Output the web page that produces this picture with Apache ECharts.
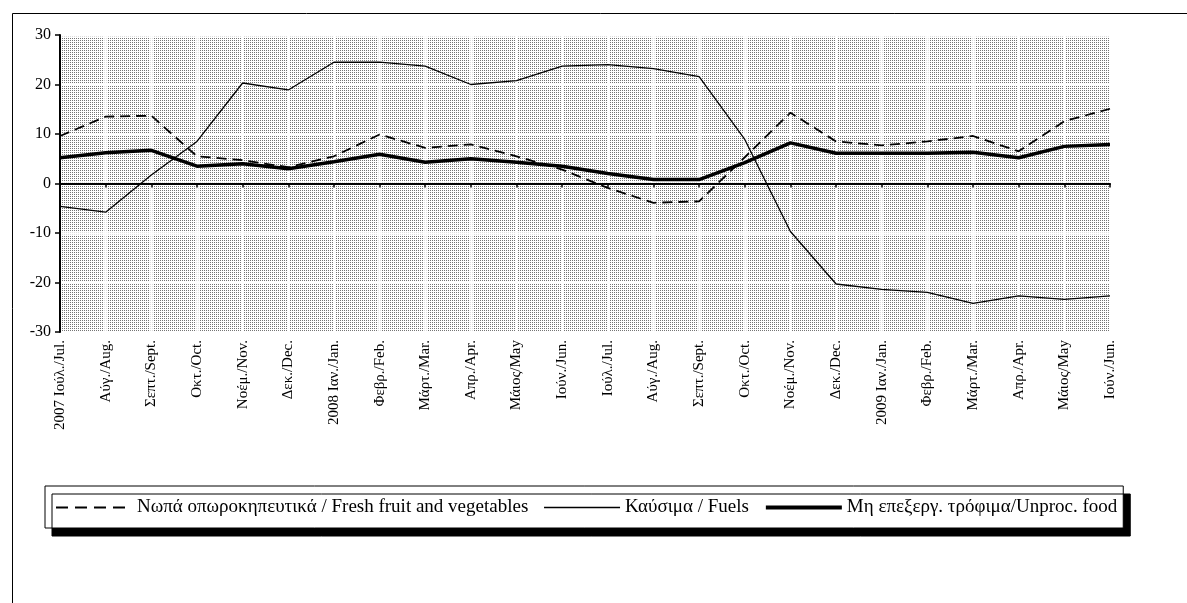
<!DOCTYPE html>
<html>
<head>
<meta charset="utf-8">
<script src="https://cdn.jsdelivr.net/npm/echarts@6/dist/echarts.min.js"></script>
<style>
  html, body { margin: 0; padding: 0; background: #fff; }
  #chart { width: 1187px; height: 603px; }
</style>
</head>
<body>
<div id="chart"></div>
<script>
// μήνες / months
const months = [
  "2007 Ιούλ./Jul.", "Αύγ./Aug.", "Σεπτ./Sept.", "Οκτ./Oct.", "Νοέμ./Nov.", "Δεκ./Dec.",
  "2008 Ιαν./Jan.", "Φεβρ./Feb.", "Μάρτ./Mar.", "Απρ./Apr.", "Μάιος/May", "Ιούν./Jun.",
  "Ιούλ./Jul.", "Αύγ./Aug.", "Σεπτ./Sept.", "Οκτ./Oct.", "Νοέμ./Nov.", "Δεκ./Dec.",
  "2009 Ιαν./Jan.", "Φεβρ./Feb.", "Μάρτ./Mar.", "Απρ./Apr.", "Μάιος/May", "Ιούν./Jun."
];
const freshFruit = [9.6, 13.5, 13.7, 5.5, 4.7, 3.3, 5.5, 9.9, 7.2, 7.9, 5.5, 2.8,
  -0.9, -3.9, -3.6, 5.3, 14.3, 8.5, 7.7, 8.5, 9.6, 6.5, 12.6, 15.1];
const fuels = [-4.6, -5.8, 1.7, 8.5, 20.3, 18.9, 24.5, 24.5, 23.7, 20.0, 20.8, 23.7,
  24.0, 23.2, 21.6, 8.9, -9.7, -20.3, -21.4, -22.0, -24.2, -22.7, -23.4, -22.7];
const unprocFood = [5.2, 6.2, 6.7, 3.5, 4.0, 3.0, 4.4, 5.9, 4.3, 5.0, 4.3, 3.5,
  2.0, 0.8, 0.8, 4.2, 8.2, 6.1, 6.1, 6.1, 6.3, 5.2, 7.5, 7.9];
const seriesNames = [
  "Νωπά οπωροκηπευτικά / Fresh fruit and vegetables",
  "Καύσιμα / Fuels",
  "Μη επεξεργ. τρόφιμα/Unproc. food"
];

// dotted background like the original
function makePattern() {
  const c = document.createElement("canvas");
  c.width = 2;
  c.height = 2;
  const ctx = c.getContext("2d");
  ctx.fillStyle = "#ffffff";
  ctx.fillRect(0, 0, 2, 2);
  ctx.fillStyle = "#747474";
  ctx.fillRect(0, 0, 1, 1);
  return c;
}

const serif = "'Liberation Serif', 'DejaVu Serif', serif";
const chart = echarts.init(document.getElementById("chart"));

const option = {
  animation: false,
  backgroundColor: "#fff",
  textStyle: { fontFamily: serif, color: "#000" },
  graphic: [
    {
      type: "rect",
      left: 10,
      top: 11,
      shape: { width: 1200, height: 620 },
      style: { fill: "none", stroke: "#000", lineWidth: 1 },
      z: -10
    }
  ],
  grid: {
    left: 60,
    right: 77,
    top: 35,
    bottom: 271,
    show: true,
    borderWidth: 0,
    backgroundColor: { image: makePattern(), repeat: "repeat" }
  },
  legend: {
    left: 45,
    top: 486,
    data: [
      { name: seriesNames[0], lineStyle: { color: "#000", width: 2, type: [12, 7] } },
      { name: seriesNames[1], lineStyle: { color: "#000", width: 1.5, type: "solid" } },
      { name: seriesNames[2], lineStyle: { color: "#000", width: 4, type: "solid" } }
    ],
    orient: "horizontal",
    itemWidth: 76,
    itemHeight: 14,
    itemGap: 15,
    padding: [12, 6, 11, 10],
    backgroundColor: "#fff",
    borderColor: "#000",
    borderWidth: 1,
    shadowColor: "#000",
    shadowBlur: 0,
    shadowOffsetX: 7,
    shadowOffsetY: 8,
    itemStyle: { opacity: 0 },
    textStyle: { fontFamily: serif, fontSize: 19, color: "#000" }
  },
  xAxis: [
    {
      type: "category",
      data: months,
      position: "bottom",
      boundaryGap: false,
      axisLine: { show: false, onZero: false },
      axisTick: { show: false },
      splitLine: { show: true, lineStyle: { color: "#fff", width: 2.5 } },
      axisLabel: {
        rotate: 90,
        interval: 0,
        margin: 8,
        fontFamily: serif,
        fontSize: 15,
        color: "#000"
      }
    },
    {
      type: "category",
      data: months,
      position: "bottom",
      boundaryGap: false,
      axisLine: { show: true, onZero: true, lineStyle: { color: "#000", width: 2 } },
      axisTick: { show: true, inside: false, length: 4, interval: 0, lineStyle: { color: "#000", width: 1.5 } },
      axisLabel: { show: false },
      splitLine: { show: false }
    }
  ],
  yAxis: {
    type: "value",
    min: -30,
    max: 30,
    interval: 10,
    axisLine: { show: true, onZero: false, lineStyle: { color: "#000", width: 2 } },
    axisTick: { show: true, inside: false, length: 5, lineStyle: { color: "#000", width: 1.5 } },
    splitLine: { show: true, lineStyle: { color: "#fff", width: 2.5 } },
    axisLabel: { fontFamily: serif, fontSize: 16, color: "#000", margin: 9 }
  },
  series: [
    {
      name: seriesNames[0],
      type: "line",
      data: freshFruit,
      symbol: "none",
      lineStyle: { color: "#000", width: 1.8, type: [10, 6] },
      itemStyle: { color: "#000" },
      z: 3
    },
    {
      name: seriesNames[1],
      type: "line",
      data: fuels,
      symbol: "none",
      lineStyle: { color: "#000", width: 1.3 },
      itemStyle: { color: "#000" },
      z: 3
    },
    {
      name: seriesNames[2],
      type: "line",
      data: unprocFood,
      symbol: "none",
      lineStyle: { color: "#000", width: 3.5 },
      itemStyle: { color: "#000" },
      z: 4
    }
  ]
};
chart.setOption(option);
</script>
</body>
</html>
